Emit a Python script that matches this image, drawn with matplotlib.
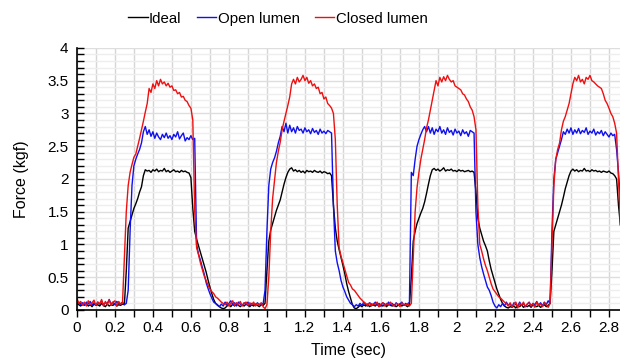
import numpy as np
import matplotlib
matplotlib.use("Agg")
import matplotlib.pyplot as plt
from matplotlib.ticker import MultipleLocator

plt.rcParams['font.family'] = ['Liberation Sans', 'DejaVu Sans']

dt = 0.01
series_names = ["Ideal", "Open lumen", "Closed lumen"]

ideal = [
    0.10, 0.08, 0.06, 0.09, 0.07, 0.10, 0.06, 0.08, 0.05, 0.09, 0.07, 0.08, 0.06, 0.10, 0.07, 0.05, 0.09, 0.06, 0.08, 0.07, 0.10, 0.06, 0.08, 0.07, 0.09,
    0.08, 0.60, 1.25, 1.35, 1.45, 1.55, 1.62, 1.70, 1.80, 1.88, 2.05, 2.14,
    2.12, 2.13, 2.10, 2.14, 2.12, 2.15, 2.11, 2.13, 2.12, 2.16, 2.11, 2.13, 2.10, 2.12, 2.14, 2.11, 2.12, 2.10, 2.13, 2.11, 2.12, 2.10, 2.09,
    2.02, 1.55, 1.20, 1.08, 0.98, 0.88, 0.78, 0.68, 0.58, 0.46, 0.35, 0.25, 0.16, 0.10, 0.07, 0.05, 0.03, 0.02, 0.03,
    0.06, 0.08, 0.05, 0.09, 0.06, 0.10, 0.07, 0.05, 0.08, 0.06, 0.09, 0.07, 0.05, 0.08, 0.06, 0.09, 0.07, 0.05, 0.08, 0.07, 0.10,
    0.60, 1.05, 1.22, 1.32, 1.42, 1.52, 1.60, 1.68, 1.80, 1.92, 2.02, 2.10, 2.15, 2.17,
    2.12, 2.14, 2.11, 2.13, 2.10, 2.12, 2.09, 2.13, 2.11, 2.12, 2.10, 2.13, 2.11, 2.10, 2.12, 2.09, 2.11, 2.10, 2.08, 2.09, 2.05,
    1.60, 1.25, 1.05, 0.92, 0.80, 0.68, 0.55, 0.40, 0.28, 0.18, 0.08, 0.03, 0.02,
    0.04, 0.07, 0.05, 0.08, 0.06, 0.09, 0.05, 0.07, 0.08, 0.06, 0.09, 0.05, 0.07, 0.06, 0.08, 0.05, 0.09, 0.07, 0.06, 0.08, 0.05, 0.07, 0.09, 0.06, 0.08, 0.07, 0.05, 0.08,
    0.50, 1.05, 1.20, 1.32, 1.40, 1.48, 1.55, 1.65, 1.78, 1.92, 2.05, 2.14, 2.16,
    2.13, 2.15, 2.12, 2.14, 2.17, 2.12, 2.14, 2.13, 2.15, 2.12, 2.13, 2.11, 2.14, 2.12, 2.13, 2.11, 2.12, 2.13, 2.11, 2.12, 2.10,
    1.80, 1.40, 1.25, 1.15, 1.05, 0.98, 0.90, 0.75, 0.62, 0.52, 0.42, 0.32, 0.24, 0.16, 0.10, 0.06, 0.04, 0.03,
    0.05, 0.04, 0.06, 0.03, 0.07, 0.05, 0.08, 0.04, 0.06, 0.05, 0.07, 0.04, 0.08, 0.06, 0.05, 0.07, 0.04, 0.06, 0.08, 0.05, 0.07, 0.10,
    0.60, 1.20, 1.30, 1.40, 1.50, 1.60, 1.72, 1.85, 1.95, 2.05, 2.12, 2.15,
    2.12, 2.14, 2.11, 2.13, 2.12, 2.16, 2.12, 2.13, 2.11, 2.14, 2.12, 2.13, 2.11, 2.12, 2.10, 2.12, 2.11, 2.10, 2.12, 2.09, 2.08, 2.05, 2.00,
    1.60, 1.30,
]

open_lumen = [
    0.10, 0.12, 0.08, 0.11, 0.07, 0.12, 0.09, 0.13, 0.08, 0.11, 0.07, 0.12, 0.09, 0.14, 0.08, 0.11, 0.10, 0.16, 0.09, 0.12, 0.08, 0.13, 0.10, 0.09, 0.12, 0.08, 0.10,
    0.30, 1.20, 1.90, 2.20, 2.30, 2.38, 2.45, 2.55, 2.72, 2.80,
    2.68, 2.75, 2.65, 2.72, 2.62, 2.70, 2.64, 2.60, 2.68, 2.63, 2.70, 2.62, 2.66, 2.60, 2.68, 2.64, 2.72, 2.61, 2.66, 2.70, 2.58, 2.63, 2.60, 2.66, 2.60, 2.62,
    1.00, 0.85, 0.76, 0.65, 0.55, 0.42, 0.33, 0.25, 0.18, 0.12, 0.10, 0.08,
    0.05, 0.09, 0.06, 0.12, 0.07, 0.10, 0.14, 0.08, 0.11, 0.06, 0.12, 0.09, 0.07, 0.11, 0.08, 0.12, 0.06, 0.10, 0.09, 0.07, 0.11, 0.08, 0.10, 0.09,
    0.30, 1.20, 1.90, 2.15, 2.25, 2.32, 2.42, 2.55, 2.65, 2.80,
    2.72, 2.85, 2.70, 2.82, 2.72, 2.78, 2.70, 2.80, 2.74, 2.76, 2.70, 2.78, 2.72, 2.75, 2.69, 2.77, 2.71, 2.74, 2.68, 2.76, 2.70, 2.73, 2.69, 2.74, 2.72, 2.70,
    1.60, 0.90, 0.72, 0.60, 0.45, 0.35, 0.28, 0.20, 0.15, 0.10, 0.08,
    0.05, 0.08, 0.06, 0.10, 0.07, 0.12, 0.08, 0.06, 0.11, 0.09, 0.07, 0.12, 0.08, 0.10, 0.06, 0.11, 0.09, 0.07, 0.12, 0.08, 0.10, 0.06, 0.11, 0.08, 0.09, 0.12, 0.07, 0.10, 0.08, 0.12,
    2.10, 2.05, 2.30, 2.50, 2.60, 2.68, 2.75, 2.80,
    2.72, 2.80, 2.70, 2.78, 2.68, 2.76, 2.72, 2.80, 2.70, 2.75, 2.68, 2.78, 2.71, 2.74, 2.67, 2.76, 2.70, 2.73, 2.66, 2.75, 2.69, 2.72, 2.65, 2.74, 2.72, 2.70,
    1.50, 1.00, 0.80, 0.66, 0.55, 0.45, 0.35, 0.30, 0.22, 0.12, 0.06, 0.03,
    0.08, 0.05, 0.10, 0.06, 0.12, 0.07, 0.09, 0.05, 0.11, 0.08, 0.06, 0.12, 0.07, 0.10, 0.05, 0.09, 0.12, 0.06, 0.10, 0.08, 0.13, 0.07, 0.11, 0.06, 0.12, 0.08, 0.14, 0.10,
    1.20, 2.00, 2.30, 2.40, 2.50, 2.60, 2.72, 2.68, 2.76,
    2.70, 2.78, 2.68, 2.75, 2.70, 2.77, 2.69, 2.74, 2.71, 2.78, 2.68, 2.73, 2.70, 2.76, 2.67, 2.72, 2.69, 2.74, 2.66, 2.72, 2.68, 2.64, 2.70, 2.66, 2.68,
    2.45, 2.10, 1.70,
]

closed_lumen = [
    0.18, 0.10, 0.13, 0.07, 0.12, 0.06, 0.14, 0.08, 0.11, 0.15, 0.07, 0.12, 0.09, 0.16, 0.06, 0.13, 0.08, 0.15, 0.07, 0.12, 0.14, 0.06, 0.13, 0.09, 0.10,
    0.80, 1.50, 1.90, 2.10, 2.22, 2.33, 2.38, 2.50, 2.62, 2.75, 2.88, 3.02, 3.15, 3.38,
    3.32, 3.45, 3.38, 3.50, 3.42, 3.52, 3.45, 3.48, 3.42, 3.46, 3.40, 3.42, 3.35, 3.36, 3.30, 3.32, 3.25, 3.26, 3.20, 3.18, 3.12, 3.08, 2.90,
    1.50, 0.95, 0.85, 0.72, 0.62, 0.52, 0.45, 0.38, 0.32, 0.28, 0.25, 0.20, 0.18, 0.15, 0.12, 0.10, 0.08,
    0.12, 0.06, 0.10, 0.14, 0.07, 0.11, 0.08, 0.13, 0.06, 0.10, 0.12, 0.07, 0.11, 0.08, 0.12, 0.06, 0.10, 0.08, 0.11, 0.05, 0.02, 0.08,
    0.50, 1.20, 1.70, 1.98, 2.25, 2.42, 2.56, 2.75, 2.88, 3.00, 3.12, 3.25, 3.45, 3.52, 3.45, 3.55, 3.48, 3.52, 3.58, 3.50, 3.55, 3.46, 3.50, 3.42, 3.45, 3.38, 3.40, 3.30, 3.32, 3.22, 3.25, 3.15, 3.12, 3.08, 3.00, 2.60,
    1.60, 0.95, 0.82, 0.72, 0.62, 0.52, 0.42, 0.38, 0.32, 0.30, 0.26, 0.22, 0.18, 0.15, 0.12, 0.10,
    0.07, 0.11, 0.06, 0.10, 0.08, 0.12, 0.05, 0.09, 0.11, 0.06, 0.10, 0.07, 0.12, 0.08, 0.06, 0.10, 0.09, 0.05, 0.11, 0.08, 0.07, 0.10, 0.06, 0.10,
    0.80, 1.50, 1.87, 2.10, 2.30, 2.45, 2.60, 2.78, 2.90, 3.05, 3.20, 3.35, 3.50, 3.42, 3.55, 3.48, 3.56, 3.50, 3.58, 3.52, 3.48, 3.50, 3.42, 3.40, 3.38, 3.36, 3.30, 3.28, 3.22, 3.18, 3.10, 3.05, 2.95, 2.75,
    1.60, 1.00, 0.90, 0.78, 0.68, 0.60, 0.50, 0.40, 0.32, 0.28, 0.24, 0.20, 0.18, 0.15, 0.12, 0.10,
    0.06, 0.11, 0.04, 0.09, 0.12, 0.03, 0.10, 0.07, 0.12, 0.05, 0.09, 0.11, 0.06, 0.10, 0.04, 0.12, 0.07, 0.09, 0.05, 0.11, 0.08, 0.04, 0.10,
    1.00, 1.90, 2.30, 2.45, 2.55, 2.75, 2.88, 2.95, 3.05, 3.15, 3.30, 3.45, 3.55, 3.50, 3.58, 3.48, 3.52, 3.45, 3.55, 3.52, 3.58, 3.50, 3.48, 3.45, 3.42, 3.40, 3.38, 3.30, 3.20, 3.15, 3.08, 3.00, 2.95, 2.85, 2.70, 2.00, 1.30,
]

x_tick_labels = ["0", "0.2", "0.4", "0.6", "0.8", "1", "1.2", "1.4", "1.6", "1.8", "2", "2.2", "2.4", "2.6", "2.8"]
y_tick_labels = ["0", "0.5", "1", "1.5", "2", "2.5", "3", "3.5", "4"]

fig = plt.figure(figsize=(6.2, 3.6), dpi=100)
ax = fig.add_axes([0.124, 0.139, 0.876, 0.728])

colors = ["#000000", "#1010ee", "#ee1010"]
for name, vals, c in zip(series_names, [ideal, open_lumen, closed_lumen], colors):
    t = np.arange(len(vals)) * dt
    ax.plot(t, vals, color=c, lw=1.0, label=name)

ax.set_xlim(0, 2.858)
ax.set_ylim(0, 4)

xt = [float(s) for s in x_tick_labels]
yt = [float(s) for s in y_tick_labels]
ax.set_xticks(xt)
ax.set_xticklabels(x_tick_labels)
ax.set_yticks(yt)
ax.set_yticklabels(y_tick_labels)
ax.xaxis.set_minor_locator(MultipleLocator(0.1))
ax.yaxis.set_minor_locator(MultipleLocator(0.1))

ax.grid(which='minor', axis='x', color='#d6d6d6', lw=1.0)
ax.grid(which='major', axis='x', color='#d6d6d6', lw=1.0)
ax.grid(which='minor', axis='y', color='#eeeeee', lw=1.0)
ax.grid(which='major', axis='y', color='#dedede', lw=1.0)
ax.set_axisbelow(True)

ax.tick_params(axis='x', which='both', direction='out', length=5, width=1, labelsize=11, pad=3)
ax.tick_params(axis='y', which='both', direction='in', length=5, width=1, labelsize=11, pad=6)

for s in ['top', 'right']:
    ax.spines[s].set_visible(False)
for s in ['left', 'bottom']:
    ax.spines[s].set_color('black')
    ax.spines[s].set_linewidth(1.2)

ax.set_xlabel("Time (sec)", fontsize=11.5, labelpad=6)
ax.set_ylabel("Force (kgf)", fontsize=11.5, labelpad=13)

fig.legend(loc='center', bbox_to_anchor=(0.448, 0.948), ncol=3, frameon=False,
           fontsize=10.8, handlelength=1.3, handletextpad=0.1, columnspacing=1.0)

fig.savefig("out.png", dpi=100)
